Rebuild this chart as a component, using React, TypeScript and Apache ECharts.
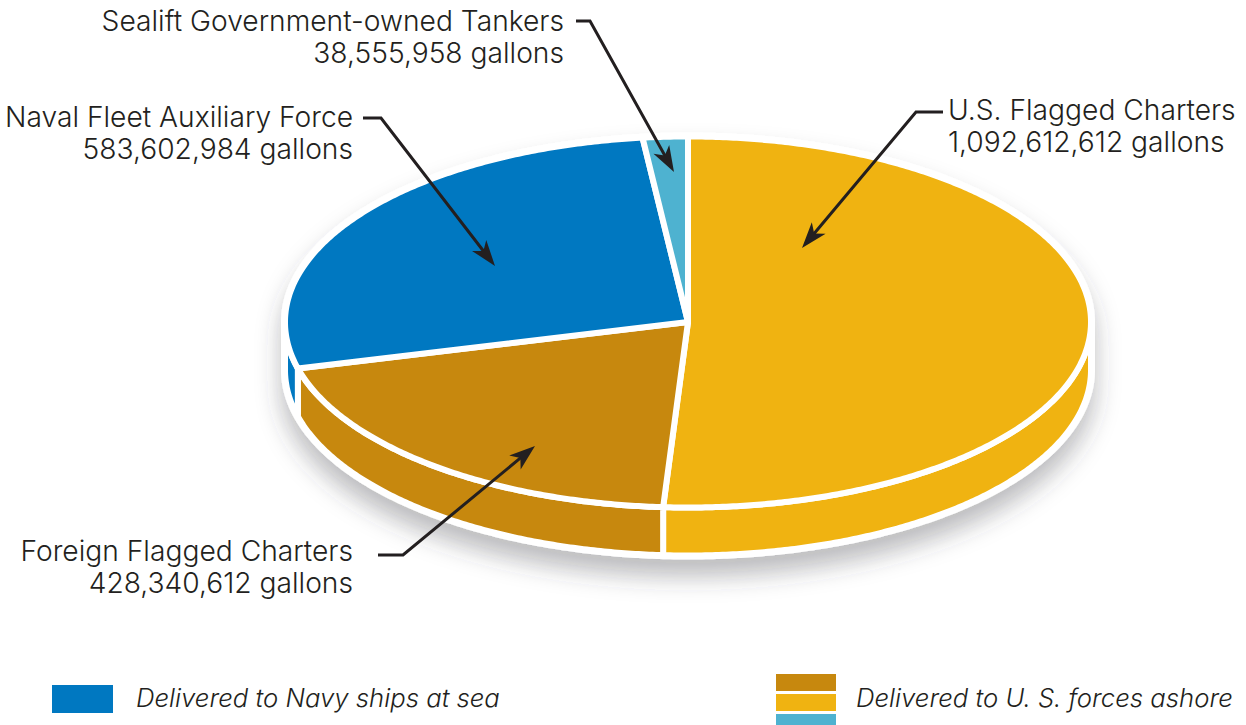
import React, { useEffect, useRef } from "react";
import * as echarts from "echarts";

// Fuel delivered by source, in gallons, clockwise from twelve o'clock.
const sources = [
  "U.S. Flagged Charters",
  "Foreign Flagged Charters",
  "Naval Fleet Auxiliary Force",
  "Sealift Government-owned Tankers",
];
const gallons = [1092612612, 428340612, 583602984, 38555958];
const sliceColors = ["#f0b311", "#c7880e", "#0078c1", "#4eb2d0"];

const legendSea = "Delivered to Navy ships at sea";
const legendAshore = "Delivered to U. S. forces ashore";

const INK = "#231f20";
const LABEL_FONT = '300 28.2px "Inter"';
const LEGEND_FONT = 'italic 300 25.7px "Inter"';

// Tilted disc geometry.
const CX = 688;
const CY = 322;
const RX = 403;
const RY = 185.5;
const DEPTH = 48;
const RAD = Math.PI / 180;

const total = gallons.reduce((a, b) => a + b, 0);

const rimPoint = (deg: number, drop = 0): number[] => [
  CX + RX * Math.sin(deg * RAD),
  CY - RY * Math.cos(deg * RAD) + drop,
];

const arc = (from: number, to: number, drop = 0): number[][] => {
  const pts: number[][] = [];
  const steps = Math.max(2, Math.ceil(Math.abs(to - from) * 2));
  for (let i = 0; i <= steps; i++) pts.push(rimPoint(from + ((to - from) * i) / steps, drop));
  return pts;
};

const sliceRange = (index: number): [number, number] => {
  let acc = 0;
  for (let i = 0; i < index; i++) acc += gallons[i];
  return [(acc / total) * 360, ((acc + gallons[index]) / total) * 360];
};

const renderShadow = () => ({
  type: "polygon",
  shape: { points: [...arc(270, 450), ...arc(90, 270, DEPTH)] },
  style: {
    fill: "#ffffff",
    stroke: "#ffffff",
    lineWidth: 8,
    shadowBlur: 25,
    shadowOffsetY: 17,
    shadowColor: "rgba(60,62,70,0.34)",
  },
});

const renderWall = (_p: any, api: any) => {
  const i = api.value(0);
  const [a, b] = sliceRange(i);
  const from = Math.max(a, 90);
  const to = Math.min(b, 270);
  if (from >= to) return { type: "group", children: [] };
  return {
    type: "polygon",
    shape: { points: [...arc(from, to), ...arc(to, from, DEPTH)] },
    style: { fill: sliceColors[i], stroke: "#ffffff", lineWidth: 6, lineJoin: "round" },
  };
};

const renderTop = (_p: any, api: any) => {
  const i = api.value(0);
  const [a, b] = sliceRange(i);
  return {
    type: "polygon",
    shape: { points: [[CX, CY], ...arc(a, b)] },
    style: { fill: sliceColors[i], stroke: "#ffffff", lineWidth: 6, lineJoin: "round" },
  };
};

// A leader line with a swept-back arrowhead at its last point.
const leader = (points: number[][]) => {
  const tip = points[points.length - 1];
  const prev = points[points.length - 2];
  const len = Math.hypot(tip[0] - prev[0], tip[1] - prev[1]);
  const dx = (tip[0] - prev[0]) / len;
  const dy = (tip[1] - prev[1]) / len;
  const at = (back: number, side: number) => [
    tip[0] - dx * back - dy * side,
    tip[1] - dy * back + dx * side,
  ];
  return [
    {
      type: "polyline",
      z: 100,
      shape: { points: [...points.slice(0, -1), at(18, 0)] },
      style: { stroke: INK, lineWidth: 3, fill: "none" },
    },
    {
      type: "polygon",
      z: 100,
      shape: { points: [tip, at(26, 9), at(19, 0), at(26, -9)] },
      style: { fill: INK },
    },
  ];
};

const label = (text: string, x: number, y: number, align: string, font = LABEL_FONT) => ({
  type: "text",
  z: 100,
  style: { text, x, y, fill: INK, font, textAlign: align, textVerticalAlign: "middle" },
});

const amount = (i: number) => `${gallons[i].toLocaleString("en-US")} gallons`;

const swatch = (x: number, y: number, width: number, height: number, fill: string) => ({
  type: "rect",
  z: 100,
  shape: { x, y, width, height },
  style: { fill },
});

export default function App() {
  const ref = useRef<HTMLDivElement>(null);

  useEffect(() => {
    document.body.style.margin = "0";
    const chart = echarts.init(ref.current!, null, { renderer: "svg" });
    const items = gallons.map((v, i) => ({ name: sources[i], value: [i, v] }));
    chart.setOption({
      animation: false,
      backgroundColor: "#ffffff",
      series: [
        { type: "custom", coordinateSystem: "none", silent: true, z: 1, data: [[0]], renderItem: renderShadow },
        { type: "custom", coordinateSystem: "none", silent: true, z: 2, data: items, renderItem: renderWall },
        { type: "custom", coordinateSystem: "none", silent: true, z: 3, data: items, renderItem: renderTop },
      ],
      graphic: [
        ...leader([[576, 21], [590, 21], [674, 172]]),
        ...leader([[943, 112], [916, 112], [802, 248]]),
        ...leader([[363, 118], [381, 118], [495, 266]]),
        ...leader([[378, 555], [403, 555], [535, 446]]),
        label(sources[3], 564, 21, "right"),
        label(amount(3), 564, 53, "right"),
        label(sources[0], 948, 110, "left"),
        label(amount(0), 948, 142, "left"),
        label(sources[2], 353, 117, "right"),
        label(amount(2), 353, 149, "right"),
        label(sources[1], 353, 551, "right"),
        label(amount(1), 353, 583, "right"),
        swatch(52, 685, 61, 28, sliceColors[2]),
        swatch(776, 674, 60, 17, sliceColors[1]),
        swatch(776, 694, 60, 17, sliceColors[0]),
        swatch(776, 714, 60, 11, sliceColors[3]),
        label(legendSea, 136, 697, "left", LEGEND_FONT),
        label(legendAshore, 856, 697, "left", LEGEND_FONT),
      ],
    });
    return () => chart.dispose();
  }, []);

  return <div ref={ref} style={{ width: 1246, height: 725 }} />;
}
